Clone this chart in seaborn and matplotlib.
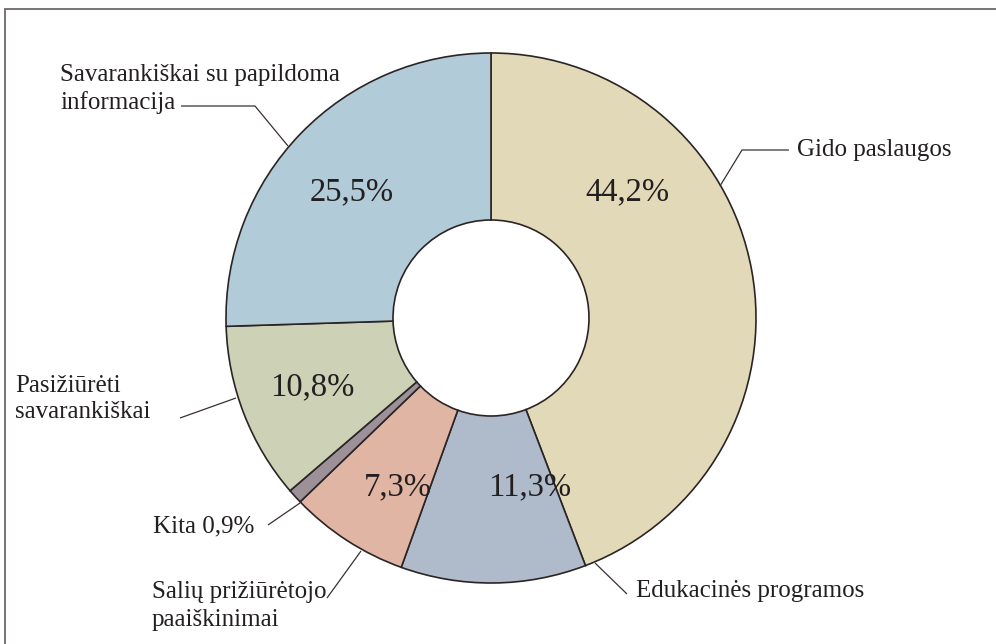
import matplotlib
matplotlib.use("Agg")
import matplotlib.pyplot as plt
import seaborn as sns
from matplotlib.patches import Rectangle

# Data
categories = ["Gido paslaugos", "Edukacinės programos", "Salių prižiūrėtojo\npaaiškinimai",
              "Kita", "Pasižiūrėti\nsavarankiškai", "Savarankiškai su papildoma\ninformacija"]
values = [44.2, 11.3, 7.3, 0.9, 10.8, 25.5]
pct_labels = ["44,2%", "11,3%", "7,3%", "", "10,8%", "25,5%"]
colors = ["#E2D9B8", "#AFBACB", "#E1B5A4", "#9C9199", "#CDD1B5", "#B1CCD8"]

sns.set_theme(style="white")
plt.rcParams["font.family"] = ["Liberation Serif", "DejaVu Serif"]

W, H = 996, 644
fig = plt.figure(figsize=(W / 100, H / 100), dpi=100)
ax = fig.add_axes([0, 0, 1, 1])

cx, cy = 491, H - 318
R, r_in = 265, 98
edge = "#2b2424"

ax.pie(values, colors=colors, startangle=90, counterclock=False,
       center=(cx, cy), radius=R,
       wedgeprops=dict(width=R - r_in, edgecolor=edge, linewidth=1.2))
ax.set_xlim(0, W)
ax.set_ylim(0, H)
ax.set_aspect("equal")
ax.axis("off")

txt = "#231f20"
# percent labels (pixel positions, y from top)
pct_pos = [(627, 192), (530, 487), (398, 487), None, (312, 387), (352, 192)]
for lab, pos in zip(pct_labels, pct_pos):
    if pos and lab:
        ax.text(pos[0], H - pos[1], lab, ha="center", va="center",
                fontsize=23.5, color=txt)

# outer labels and leader lines
lw = 0.9
lc = "#3a3030"
def leader(pts):
    xs = [p[0] for p in pts]
    ys = [H - p[1] for p in pts]
    ax.plot(xs, ys, color=lc, lw=lw, solid_capstyle="butt")

fs = 18
ls = 1.28
ax.text(60, H - 89, categories[5], ha="left", va="center", fontsize=fs, color=txt, linespacing=ls)
leader([(181, 106), (255, 106), (288, 146)])

ax.text(797, H - 150, categories[0], ha="left", va="center", fontsize=fs, color=txt)
leader([(789, 150), (742, 150), (720, 186)])

ax.text(15, H - 399, categories[4], ha="left", va="center", fontsize=fs, color=txt, linespacing=ls)
leader([(180, 418), (236, 398)])

ax.text(153, H - 526, categories[3] + " 0,9%", ha="left", va="center", fontsize=fs, color=txt)
leader([(268, 525), (300, 503)])

ax.text(152, H - 606, categories[2], ha="left", va="center", fontsize=fs, color=txt, linespacing=1.38)
leader([(327, 598), (361, 551)])

ax.text(636, H - 591, categories[1], ha="left", va="center", fontsize=fs, color=txt)
leader([(627, 594), (595, 563)])

# frame (cut off on right/bottom)
fig.patches.append(Rectangle((4.5 / W, -0.1), 1.2, (H - 9.5) / H + 0.1,
                             transform=fig.transFigure, fill=False,
                             edgecolor="#6d6767", linewidth=1.3))

fig.savefig("out.png", dpi=100, facecolor="white")
